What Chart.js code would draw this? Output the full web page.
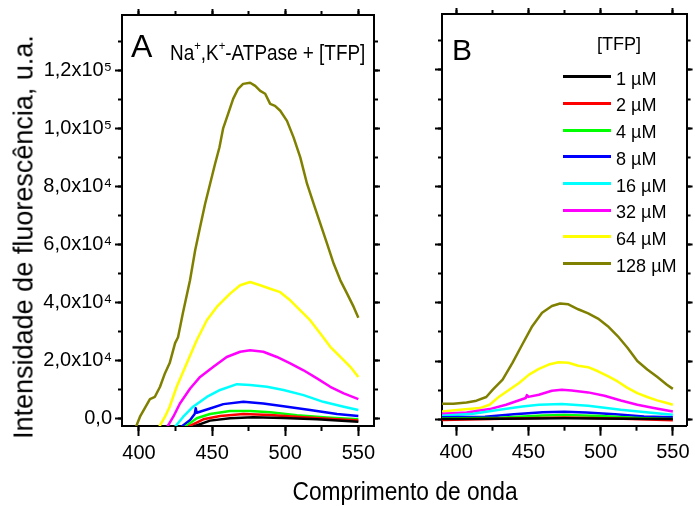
<!DOCTYPE html>
<html><head><meta charset="utf-8">
<script src="https://cdn.jsdelivr.net/npm/chart.js@4.4.1/dist/chart.umd.min.js"></script>
<style>
html,body{margin:0;padding:0;background:#fff;overflow:hidden;width:695px;height:507px;}
#wrap{position:relative;width:695px;height:507px;color:#000;font-family:'Liberation Sans',Arial,sans-serif;}
canvas{position:absolute;left:0;top:0;}
.t{position:absolute;white-space:nowrap;line-height:1;}
.t sup{font-size:60%;vertical-align:0;position:relative;top:-0.75em;}
</style></head><body>
<div id="wrap">
<canvas id="cA" width="695" height="507"></canvas>
<canvas id="cB" width="695" height="507"></canvas>
<div class="t" id="ytitle" style="font-size:27px;left:24px;top:237px;transform:translate(-50%,-50%) rotate(-90deg);">Intensidade de fluorescência, u.a.</div>
<div class="t" id="xtitle" style="font-size:26px;left:405px;top:478px;transform:translateX(-50%) scaleX(0.875);">Comprimento de onda</div>
<div class="t" style="font-size:32px;left:131px;top:29.5px;">A</div>
<div class="t" style="font-size:22px;left:170px;top:41.5px;transform-origin:0 0;transform:scaleX(0.86);">Na<sup>+</sup>,K<sup>+</sup>-ATPase + [TFP]</div>
<div class="t" style="font-size:30px;left:452px;top:34.5px;">B</div>
<div class="t" style="font-size:19px;left:619px;top:34px;transform:translateX(-50%) scaleX(0.95);">[TFP]</div>
<div id="legend"></div>
</div>
<script>
// ---- axis ticks and labels ----
const wavelengthTicks = [400, 450, 500, 550];
const wavelengthMinor = [400, 425, 450, 475, 500, 525, 550];
const intensityTicks = [0, 20000, 40000, 60000, 80000, 100000, 120000];
const intensityMinor = [0, 10000, 20000, 30000, 40000, 50000, 60000, 70000, 80000, 90000, 100000, 110000, 120000, 130000];
const intensityLabels = ['0,0', '2,0x10⁴', '4,0x10⁴', '6,0x10⁴', '8,0x10⁴', '1,0x10⁵', '1,2x10⁵'];
const concLabels = ['1 µM', '2 µM', '4 µM', '8 µM', '16 µM', '32 µM', '64 µM', '128 µM'];
const seriesColors = ['#000000', '#ff0000', '#00ff00', '#0000ff', '#00ffff', '#ff00ff', '#ffff00', '#808000'];

// ---- panel A: [wavelength nm, intensity] ----
const A_1 = [[437,-3000],[448.6,-900],[462.3,-100],[478,250],[498.8,0],[521.7,-450],[550,-1300]];
const A_2 = [[433.8,-3000],[444,-450],[455.5,700],[471.4,1400],[489.7,1000],[512.5,250],[550,-900]];
const A_4 = [[431.5,-3000],[439.5,-100],[448.6,1400],[462.3,2400],[476,2400],[489.7,2000],[508,1000],[528.5,200],[550,-450]];
const A_8 = [[429,-3000],[435,-700],[438.2,1500],[438.8,3400],[439.5,1800],[448.6,3300],[457.7,4800],[471.4,5600],[485,5000],[498.8,4100],[517,2800],[535.4,1400],[550,700]];
const A_16 = [[424.7,-3000],[430.3,450],[437,3900],[446.4,7300],[455.5,9700],[467,11700],[476,11400],[487.5,10800],[498.8,9700],[512.5,7900],[526,5600],[540,3900],[550,2800]];
const A_32 = [[419.4,-3000],[423.5,450],[428,5000],[435,10200],[441.8,14200],[450.9,17700],[460,21100],[469.2,22900],[476,23400],[485,22900],[494.3,21100],[503.4,18900],[512.5,16500],[521.7,13700],[530.8,10800],[540,8500],[550,6500]];
const A_64 = [[413.9,-3000],[417.8,450],[421,3900],[425.8,10800],[432.7,18900],[439.5,26900],[446.4,33800],[453.2,38400],[462.3,43000],[469.2,45900],[476,47000],[482.9,45900],[489.7,44700],[496.6,43500],[503.4,40700],[510.3,37200],[517,33800],[524,29200],[530.8,24600],[537.7,21100],[544.5,17700],[550,14200]];
const A_128 = [[398,-3000],[400.7,450],[404,3450],[407.5,6550],[410.9,7340],[414.4,10800],[417.8,15500],[421,19000],[424.7,25900],[426.7,27900],[430,36200],[434.9,47600],[438.4,57900],[441.8,66000],[445.2,74000],[448.6,80900],[452,87800],[455,93500],[457.5,100000],[461,105200],[464.4,110300],[467.8,113800],[471.2,115500],[476,115900],[479.5,114800],[482.9,113100],[486.3,112100],[489.7,108600],[493,107900],[496.6,106200],[501.2,102700],[505.7,97000],[510.3,90100],[514.9,81000],[519.4,74100],[524,67200],[528.6,60300],[533.1,53400],[537.7,47600],[542.3,43000],[546.8,38400],[550,34700]];

// ---- panel B: [wavelength nm, intensity] ----
const B_1 = [[390.2,100],[430,150],[475,400],[520,200],[550,100]];
const B_2 = [[390.2,-200],[440,300],[475,600],[510,300],[550,-300]];
const B_4 = [[390.2,300],[430,500],[460,1300],[475,1500],[500,1100],[530,400],[550,100]];
const B_8 = [[390.2,700],[420,900],[440,1700],[460,2400],[475,2600],[490,2300],[510,1700],[530,1000],[550,700]];
const B_16 = [[390.2,1200],[411.8,1900],[430,3270],[445.9,4400],[457.3,5000],[473.2,5240],[491.4,4650],[514,3270],[536.8,2140],[550,1550]];
const B_32 = [[390.2,1900],[407.3,2350],[423.2,3500],[434.6,5000],[448.2,7300],[449,8300],[450,7700],[457.3,8450],[466.3,9830],[473.1,10170],[480,9930],[491.4,9240],[502.7,8100],[514,6480],[525.4,5000],[536.8,3860],[550,2690]];
const B_64 = [[390.2,2700],[402.7,3280],[416.4,3860],[423.2,5000],[430,7860],[436.8,10170],[443.6,12480],[450.5,15340],[457.3,17300],[464.1,18800],[470.9,19600],[477.7,19400],[484.5,18400],[491.4,17900],[498.2,16500],[505,14800],[511.8,13000],[518.6,10800],[525.4,9000],[532.3,7650],[539.1,6500],[545.9,5600],[550,5000]];
const B_128 = [[390.2,5340],[398.2,5340],[407.3,5800],[414.1,6400],[420.9,7650],[425.4,10170],[432.2,13600],[439,19400],[445.8,25700],[452.7,32000],[459.5,36600],[466.3,38900],[472,39800],[477.7,39500],[484.5,37800],[491.4,36400],[498.2,34600],[505,32000],[511.8,28600],[518.6,24600],[525.4,20000],[532.3,17100],[539.1,14600],[545.9,11900],[550,10450]];

const panelA = [A_1, A_2, A_4, A_8, A_16, A_32, A_64, A_128];
const panelB = [B_1, B_2, B_4, B_8, B_16, B_32, B_64, B_128];

const FONT = "'Liberation Sans', Arial, sans-serif";
Chart.defaults.font.family = FONT;
Chart.defaults.color = '#000';

function setTicks(arr) { return s => { s.ticks = arr.map(v => ({value: v})); }; }
function fixW(w) { return s => { s.width = w; }; }
function fixH(h) { return s => { s.height = h; }; }
function gridOf(len) { return {drawOnChartArea: false, drawTicks: true, tickLength: len, tickWidth: 2, tickColor: '#000'}; }
const noBorder = {display: false};
const frame = {display: true, color: '#000', width: 2};

function buildScales(xr, yr, box, yLabels) {
  return {
    x: {type: 'linear', position: 'bottom', min: xr[0], max: xr[1], weight: 1,
        afterBuildTicks: setTicks(wavelengthTicks), afterFit: fixH(box.bottom),
        ticks: {autoSkip: false, maxRotation: 0, font: {size: 20}, color: '#000', padding: 5, callback: v => String(v)},
        grid: gridOf(10), border: frame},
    xm: {type: 'linear', position: 'bottom', min: xr[0], max: xr[1], weight: 0,
        afterBuildTicks: setTicks(wavelengthMinor), afterFit: fixH(0),
        ticks: {display: false, autoSkip: false}, grid: gridOf(5), border: noBorder},
    xt: {type: 'linear', position: 'top', min: xr[0], max: xr[1], weight: 1,
        afterBuildTicks: setTicks(wavelengthTicks), afterFit: fixH(box.top),
        ticks: {display: false, autoSkip: false}, grid: gridOf(6), border: frame},
    xtm: {type: 'linear', position: 'top', min: xr[0], max: xr[1], weight: 0,
        afterBuildTicks: setTicks(wavelengthMinor), afterFit: fixH(0),
        ticks: {display: false, autoSkip: false}, grid: gridOf(4), border: noBorder},
    y: {type: 'linear', position: 'left', min: yr[0], max: yr[1], weight: 1,
        afterBuildTicks: setTicks(intensityTicks), afterFit: fixW(box.left),
        ticks: {display: yLabels, autoSkip: false, font: {size: 20}, color: '#000', padding: 3,
                callback: v => { const i = intensityTicks.indexOf(v); return i >= 0 ? intensityLabels[i] : ''; }},
        grid: gridOf(7), border: frame},
    ym: {type: 'linear', position: 'left', min: yr[0], max: yr[1], weight: 0,
        afterBuildTicks: setTicks(intensityMinor), afterFit: fixW(0),
        ticks: {display: false, autoSkip: false}, grid: gridOf(4), border: noBorder},
    yr: {type: 'linear', position: 'right', min: yr[0], max: yr[1], weight: 1,
        afterBuildTicks: setTicks(intensityTicks), afterFit: fixW(box.right),
        ticks: {display: false, autoSkip: false}, grid: gridOf(6), border: frame},
    yrm: {type: 'linear', position: 'right', min: yr[0], max: yr[1], weight: 0,
        afterBuildTicks: setTicks(intensityMinor), afterFit: fixW(0),
        ticks: {display: false, autoSkip: false}, grid: gridOf(4), border: noBorder}
  };
}

function datasetsOf(panel) {
  return panel.map((pts, i) => ({
    label: concLabels[i],
    data: pts.map(p => ({x: p[0], y: p[1]})),
    borderColor: seriesColors[i],
    backgroundColor: seriesColors[i],
    borderWidth: 2.5,
    pointRadius: 0,
    tension: 0,
    fill: false,
    borderJoinStyle: 'round',
    xAxisID: 'x', yAxisID: 'y'
  }));
}

function makeChart(id, panel, xr, yr, box, yLabels) {
  return new Chart(document.getElementById(id), {
    type: 'line',
    data: {datasets: datasetsOf(panel)},
    options: {
      responsive: false, animation: false, devicePixelRatio: 1, events: [],
      layout: {padding: 0},
      plugins: {legend: {display: false}, tooltip: {enabled: false}, title: {display: false}},
      scales: buildScales(xr, yr, box, yLabels)
    }
  });
}

makeChart('cA', panelA, [388.4, 560.7], [-2760, 139310], {left: 122, top: 14, bottom: 81, right: 321}, true);
makeChart('cB', panelB, [390.25, 559.5], [-2200, 139230], {left: 442, top: 14, bottom: 81.3, right: 5}, false);

// legend from the same arrays
const lg = document.getElementById('legend');
concLabels.forEach((lab, i) => {
  const y = 76.7 + i * 26.7;
  const ln = document.createElement('div');
  ln.style.cssText = `position:absolute;left:563px;top:${y - 1.5}px;width:48px;height:3px;background:${seriesColors[i]};`;
  lg.appendChild(ln);
  const tx = document.createElement('div');
  tx.className = 't';
  tx.style.cssText = `font-size:19px;left:616px;top:${y - 8}px;transform-origin:0 0;transform:scaleX(0.95);`;
  tx.textContent = lab;
  lg.appendChild(tx);
});
</script>
</body></html>
